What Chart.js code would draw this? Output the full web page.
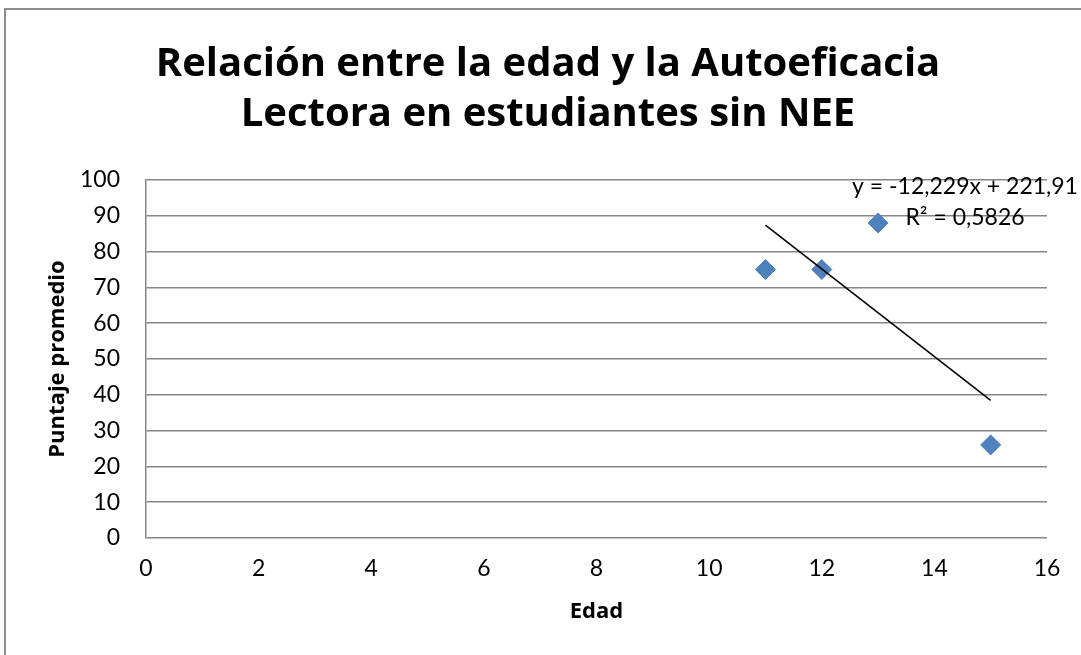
<!DOCTYPE html>
<html><head><meta charset="utf-8">
<script src="https://cdn.jsdelivr.net/npm/chart.js@4.4.1/dist/chart.umd.min.js"></script>
<style>html,body{margin:0;padding:0;background:#fff;} canvas{display:block;}</style>
</head><body>
<canvas id="c" width="1081" height="655"></canvas>
<script>
const titleLines = ['Relación entre la edad y la Autoeficacia', 'Lectora en estudiantes sin NEE'];
const xAxisTitle = 'Edad';
const yAxisTitle = 'Puntaje promedio';
const ages = [11, 12, 13, 15];
const scores = [75, 75, 88, 26];
const trendSlope = -12.229;
const trendIntercept = 221.91;
const trendRange = [11, 15];
const trendLabels = ['y = -12,229x + 221,91', 'R² = 0,5826'];
const xTicks = [0, 2, 4, 6, 8, 10, 12, 14, 16];
const yTicks = [0, 10, 20, 30, 40, 50, 60, 70, 80, 90, 100];

const FONT = 'Lato, "Open Sans", sans-serif';
const BOLD_FONT = '"Open Sans", Lato, sans-serif';
const GRID = '#868686';

const points = ages.map((a, i) => ({x: a, y: scores[i]}));
const trendPoints = trendRange.map(x => ({x: x, y: trendSlope * x + trendIntercept}));

const decor = {
  id: 'decor',
  beforeDraw(chart) {
    const ctx = chart.ctx;
    ctx.save();
    ctx.fillStyle = '#fff';
    ctx.fillRect(0, 0, chart.width, chart.height);
    ctx.strokeStyle = '#8c8c8c';
    ctx.lineWidth = 2;
    ctx.beginPath();
    ctx.moveTo(5, chart.height);
    ctx.lineTo(5, 9);
    ctx.lineTo(chart.width, 9);
    ctx.stroke();
    ctx.restore();
  },
  afterDatasetsDraw(chart) {
    const ctx = chart.ctx;
    const a = chart.chartArea;
    ctx.save();
    ctx.fillStyle = '#000';
    ctx.font = '23px ' + FONT;
    ctx.textAlign = 'center';
    ctx.textBaseline = 'middle';
    ctx.fillText(trendLabels[0], a.right - 82, a.top + 7);
    ctx.fillText(trendLabels[1], a.right - 82, a.top + 38);
    ctx.restore();
  }
};

new Chart(document.getElementById('c'), {
  type: 'scatter',
  data: {
    datasets: [
      {
        type: 'line',
        label: 'Lineal',
        data: trendPoints,
        borderColor: '#000',
        borderWidth: 1.6,
        pointRadius: 0,
        showLine: true,
        fill: false,
        order: 0
      },
      {
        label: 'Puntaje',
        data: points,
        pointStyle: 'rectRot',
        pointRadius: 10,
        pointHoverRadius: 10,
        backgroundColor: '#4F81BD',
        borderColor: '#4F81BD',
        borderWidth: 1,
        order: 1
      }
    ]
  },
  options: {
    responsive: false,
    animation: false,
    devicePixelRatio: 1,
    layout: {padding: {left: 49, right: 34, top: 0, bottom: 0}},
    plugins: {
      legend: {display: false},
      tooltip: {enabled: false},
      title: {
        display: true,
        text: titleLines,
        color: '#000',
        font: {family: BOLD_FONT, size: 40, weight: 'bold', lineHeight: 50 / 40},
        padding: {top: 40, bottom: 40}
      }
    },
    scales: {
      x: {
        type: 'linear',
        min: xTicks[0],
        max: xTicks[xTicks.length - 1],
        afterBuildTicks: s => { s.ticks = xTicks.map(v => ({value: v})); },
        afterFit: s => { s.height = 117; },
        grid: {display: false, drawTicks: false},
        border: {display: false},
        ticks: {padding: 17, color: '#000', font: {family: FONT, size: 23}},
        title: {
          display: true, text: xAxisTitle, color: '#000',
          font: {family: BOLD_FONT, size: 22, weight: 'bold', lineHeight: 1.2},
          padding: {top: 0, bottom: 29.8}
        }
      },
      y: {
        type: 'linear',
        min: yTicks[0],
        max: yTicks[yTicks.length - 1],
        afterBuildTicks: s => { s.ticks = yTicks.map(v => ({value: v})); },
        afterFit: s => { s.width = 97; },
        grid: {color: GRID, lineWidth: 1.5, drawTicks: false},
        border: {display: true, color: GRID, width: 1.5},
        ticks: {padding: 26, color: '#000', font: {family: FONT, size: 23}},
        title: {
          display: true, text: yAxisTitle, color: '#000',
          font: {family: BOLD_FONT, size: 22, weight: 'bold', lineHeight: 1.2},
          padding: {top: -4.2, bottom: 0}
        }
      }
    }
  },
  plugins: [decor]
});
</script>
</body></html>
